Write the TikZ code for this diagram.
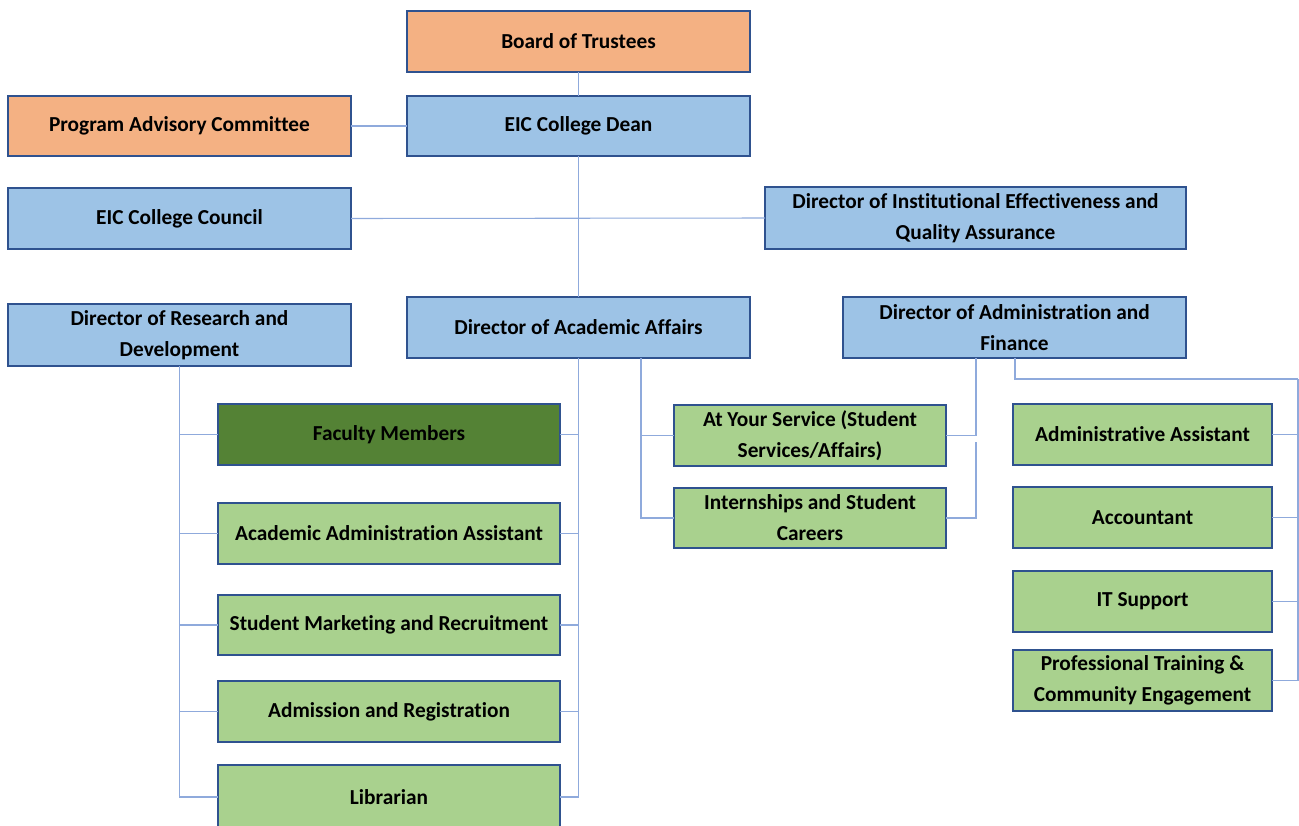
\documentclass[tikz,border=0pt]{standalone}
\usepackage{fontspec}
\setmainfont[Ligatures=NoCommon]{Carlito}
\definecolor{bluefill}{HTML}{9DC3E6}
\definecolor{orangefill}{HTML}{F4B183}
\definecolor{greenfill}{HTML}{A9D18E}
\definecolor{darkgreen}{HTML}{548235}
\definecolor{boxline}{HTML}{2F528F}
\definecolor{connline}{HTML}{8FAADC}
\newcommand\obox[7]{\node[bx, fill=#6, minimum width={(#4-#2)*0.75pt}, minimum height={(#5-#3)*0.75pt}] (#1) at ({(#2+#4)/2},{(#3+#5)/2}) {#7};}
\begin{document}
\begin{tikzpicture}[x=0.75pt, y=-0.75pt,
  bx/.style={draw=boxline, line width=1.1pt, inner sep=0pt, outer sep=0pt, align=center,
    font=\fontsize{16pt}{23.25pt}\selectfont\bfseries},
  conn/.style={draw=connline, line width=0.8pt}]
\useasboundingbox (0,0) rectangle (1299,825);
\clip (0,0) rectangle (1299,825);
% boxes
\obox{board}{407}{11}{750}{72}{orangefill}{Board of Trustees}
\obox{pac}{8}{96}{351}{156}{orangefill}{Program Advisory Committee}
\obox{dean}{407}{96}{750}{156}{bluefill}{EIC College Dean}
\obox{council}{8}{188}{351}{249}{bluefill}{EIC College Council}
\obox{ie}{765}{187}{1186}{249}{bluefill}{Director of Institutional Effectiveness and\\Quality Assurance}
\obox{rd}{8}{304}{351}{366}{bluefill}{Director of Research and\\Development}
\obox{aa}{407}{297}{750}{358}{bluefill}{Director of Academic Affairs}
\obox{af}{843}{297}{1186}{358}{bluefill}{Director of Administration and\\Finance}
\obox{fac}{218}{404}{560}{465}{darkgreen}{Faculty Members}
\obox{aaa}{218}{503}{560}{564}{greenfill}{Academic Administration Assistant}
\obox{smr}{218}{595}{560}{655}{greenfill}{Student Marketing and Recruitment}
\obox{adr}{218}{681}{560}{742}{greenfill}{Admission and Registration}
\obox{lib}{218}{765}{560}{829}{greenfill}{Librarian}
\obox{ays}{674}{405}{946}{466}{greenfill}{At Your Service (Student\\Services/Affairs)}
\obox{isc}{674}{488}{946}{548}{greenfill}{Internships and Student\\Careers}
\obox{adm}{1013}{404}{1272}{465}{greenfill}{Administrative Assistant}
\obox{acc}{1013}{487}{1272}{548}{greenfill}{Accountant}
\obox{its}{1013}{571}{1272}{632}{greenfill}{IT Support}
\obox{ptc}{1013}{650}{1272}{711}{greenfill}{Professional Training \&\\Community Engagement}
% helper coordinates
\coordinate (aa2) at (641,358);
\coordinate (af1) at (976,358);
\coordinate (af1b) at (976,442);
\coordinate (af2) at (1015,358);
\coordinate (rb) at (1298,379);
% connectors
\draw[conn] (board.south) -- (dean.north);
\draw[conn] (pac.east) -- (dean.west);
\draw[conn] (council.east) -- (ie.west);
\draw[conn] (dean.south) -- (aa.north);
\foreach \t in {fac,aaa,smr,adr,lib} {
  \draw[conn] (rd.south) |- (\t.west);
  \draw[conn] (aa.south) |- (\t.east);
}
\draw[conn] (aa2) |- (ays.west);
\draw[conn] (aa2) |- (isc.west);
\draw[conn] (af1) |- (ays.east);
\draw[conn] (af1b) |- (isc.east);
\draw[conn] (af2) |- (rb);
\foreach \t in {adm,acc,its,ptc} {
  \draw[conn] (rb) |- (\t.east);
}
\end{tikzpicture}
\end{document}
